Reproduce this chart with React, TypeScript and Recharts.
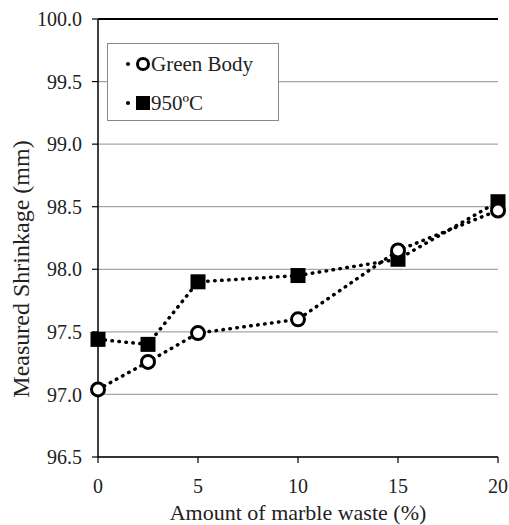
import React from "react"
import {
  LineChart,
  Line,
  XAxis,
  YAxis,
  CartesianGrid,
  ReferenceLine,
} from "recharts"

const marbleWaste = [0, 2.5, 5, 10, 15, 20]
const greenBody = [97.04, 97.26, 97.49, 97.6, 98.15, 98.47]
const fired950 = [97.44, 97.4, 97.9, 97.95, 98.08, 98.54]

const xTicks = [0, 5, 10, 15, 20]
const yTicks = [96.5, 97.0, 97.5, 98.0, 98.5, 99.0, 99.5, 100.0]

const data = marbleWaste.map((x, i) => ({
  x,
  green: greenBody[i],
  fired: fired950[i],
}))

const FONT = "Liberation Serif, Tinos, DejaVu Serif, serif"
const TEXT = "#222"

function CircleDot(props: any) {
  const { cx, cy } = props
  if (cx == null || cy == null) return null
  return <circle cx={cx} cy={cy} r={6.5} fill="#fff" stroke="#000" strokeWidth={3} />
}

function SquareDot(props: any) {
  const { cx, cy } = props
  if (cx == null || cy == null) return null
  return <rect x={cx - 7.5} y={cy - 7.5} width={15} height={15} fill="#000" />
}

function LegendBox() {
  const rows = [
    { name: "Green Body", kind: "circle" },
    { name: "950ºC", kind: "square" },
  ]
  return (
    <div
      style={{
        position: "absolute",
        left: 107,
        top: 43,
        width: 170,
        height: 76,
        border: "1px solid #888",
        background: "#fff",
        fontFamily: FONT,
        fontSize: 21,
        color: TEXT,
      }}
    >
      {rows.map((r, i) => (
        <div
          key={r.name}
          style={{
            position: "absolute",
            left: 14,
            top: i === 0 ? 6 : 45,
            height: 28,
            display: "flex",
            alignItems: "center",
          }}
        >
          <svg width={30} height={28} style={{ display: "block" }}>
            <circle cx={6} cy={14} r={2} fill="#000" />
            {r.kind === "circle" ? (
              <circle cx={21} cy={14} r={5.5} fill="#fff" stroke="#000" strokeWidth={3} />
            ) : (
              <rect x={14} y={7} width={14} height={14} fill="#000" />
            )}
          </svg>
          <span style={{ marginLeft: -1, whiteSpace: "nowrap" }}>{r.name}</span>
        </div>
      ))}
    </div>
  )
}

export default function App() {
  return (
    <div style={{ position: "absolute", left: 0, top: 0, width: 509, height: 525, background: "#fff" }}>
      <LineChart
        width={509}
        height={525}
        data={data}
        margin={{ top: 19, right: 11, bottom: 0, left: 0 }}
      >
        <CartesianGrid horizontal vertical={false} stroke="#a6a6a6" strokeWidth={1.2} />
        <ReferenceLine y={100} stroke="#000" strokeWidth={2} />
        <XAxis
          dataKey="x"
          type="number"
          domain={[0, 20]}
          ticks={xTicks}
          height={68}
          tickSize={6}
          tickMargin={16}
          axisLine={{ stroke: "#000", strokeWidth: 1.5 }}
          tickLine={{ stroke: "#000", strokeWidth: 1.2 }}
          tick={{ fontFamily: FONT, fontSize: 20, fill: TEXT }}
          label={{
            value: "Amount of marble waste (%)",
            position: "insideBottom",
            offset: 5,
            style: { fontFamily: FONT, fontSize: 22, fill: TEXT },
          }}
        />
        <YAxis
          type="number"
          domain={[96.5, 100]}
          ticks={yTicks}
          width={98}
          tickSize={6}
          tickMargin={10}
          tickFormatter={(v: number) => v.toFixed(1)}
          axisLine={{ stroke: "#000", strokeWidth: 1.5 }}
          tickLine={{ stroke: "#000", strokeWidth: 1.2 }}
          tick={{ fontFamily: FONT, fontSize: 20, fill: TEXT }}
          label={{
            value: "Measured Shrinkage (mm)",
            angle: -90,
            position: "center",
            dx: -29,
            dy: 31,
            style: { fontFamily: FONT, fontSize: 24, fill: TEXT, textAnchor: "middle" },
          }}
        />
        <Line
          dataKey="fired"
          name="950ºC"
          stroke="#000"
          strokeWidth={3.5}
          strokeDasharray="0.5 6.5"
          strokeLinecap="round"
          dot={<SquareDot />}
          activeDot={false}
          isAnimationActive={false}
        />
        <Line
          dataKey="green"
          name="Green Body"
          stroke="#000"
          strokeWidth={3.5}
          strokeDasharray="0.5 6.5"
          strokeLinecap="round"
          dot={<CircleDot />}
          activeDot={false}
          isAnimationActive={false}
        />
      </LineChart>
      <LegendBox />
    </div>
  )
}
